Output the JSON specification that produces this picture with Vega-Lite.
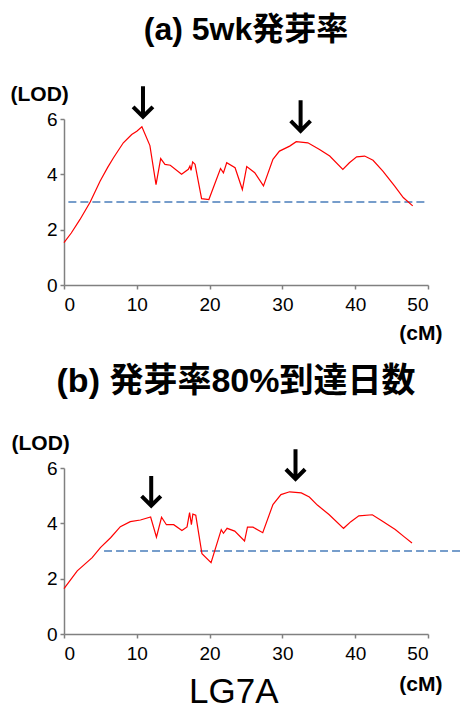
{
  "$schema": "https://vega.github.io/schema/vega-lite/v6.json",
  "padding": {"left": 10, "top": 14, "right": 0, "bottom": 0},
  "background": "white",
  "config": {
    "font": "Liberation Sans",
    "view": {"stroke": null},
    "axis": {
      "grid": false,
      "domainColor": "#808080",
      "domainWidth": 1.5,
      "tickColor": "#808080",
      "tickWidth": 1.5,
      "tickSize": 4,
      "labelFont": "Liberation Sans",
      "labelFontSize": 19,
      "labelColor": "#000000",
      "titleFont": "Liberation Sans",
      "titleFontSize": 21,
      "titleFontWeight": "bold",
      "titleColor": "#000000"
    },
    "title": {
      "font": "Liberation Sans, Noto Sans CJK JP",
      "fontSize": 32,
      "fontWeight": "bold",
      "color": "#000000"
    }
  },
  "title": {
    "text": "LG7A",
    "orient": "bottom",
    "anchor": "middle",
    "font": "Liberation Sans",
    "fontSize": 35,
    "fontWeight": "normal",
    "offset": -19,
    "dx": -3
  },
  "bounds": "flush",
  "spacing": 183,
  "vconcat": [
    {
      "width": 364,
      "height": 166,
      "title": {"text": "(a) 5wk発芽率", "frame": "group", "anchor": "middle", "offset": 31, "fontSize": 32},
      "layer": [
        {
          "data": {"name": "a_thr"},
          "mark": {"type": "rule", "strokeDash": [8, 4], "color": "#4a7ebb", "strokeWidth": 1.5},
          "encoding": {
            "x": {"field": "cM", "type": "quantitative", "scale": {"domain": [0, 50], "nice": false},
              "axis": {"values": [0, 5, 10, 15, 20, 25, 30, 35, 40, 45, 50], "labelExpr": "datum.value % 10 == 0 ? datum.label : ''", "labelPadding": 6, "title": "(cM)", "titleAngle": 0, "titleAlign": "right", "titleAnchor": "end", "titleX": 378, "titleY": 48, "titleBaseline": "middle"}},
            "x2": {"field": "cM2"},
            "y": {"field": "lod", "type": "quantitative", "scale": {"domain": [0, 6], "nice": false},
              "axis": {"values": [0, 1, 2, 3, 4, 5, 6], "labelExpr": "datum.value % 2 == 0 ? datum.label : ''", "labelPadding": 3, "title": "(LOD)", "titleAngle": 0, "titleAlign": "left", "titleAnchor": "start", "titleX": -54, "titleY": -25, "titleBaseline": "middle"}}
          }
        },
        {
          "data": {"name": "a_lod"},
          "mark": {"type": "line", "color": "#ff0000", "strokeWidth": 1.2},
          "encoding": {
            "x": {"field": "cM", "type": "quantitative"},
            "y": {"field": "lod", "type": "quantitative"}
          }
        },
        {
          "data": {"name": "a_arrow"},
          "mark": {"type": "point", "shape": "M0,-1L0,0.82M-0.6,0.25L0,0.85L0.6,0.25", "filled": false, "stroke": "#000000", "strokeWidth": 4, "size": 1089, "opacity": 1},
          "encoding": {
            "x": {"field": "cM", "type": "quantitative"},
            "y": {"field": "lod", "type": "quantitative"}
          }
        }
      ]
    },
    {
      "width": 364,
      "height": 166,
      "title": {"text": "(b) 発芽率80%到達日数", "frame": "group", "anchor": "middle", "offset": 33, "dx": -10, "fontSize": 34},
      "layer": [
        {
          "data": {"name": "b_thr"},
          "mark": {"type": "rule", "strokeDash": [8, 4], "color": "#4a7ebb", "strokeWidth": 1.5},
          "encoding": {
            "x": {"field": "cM", "type": "quantitative", "scale": {"domain": [0, 50], "nice": false},
              "axis": {"values": [0, 5, 10, 15, 20, 25, 30, 35, 40, 45, 50], "labelExpr": "datum.value % 10 == 0 ? datum.label : ''", "labelPadding": 6, "title": "(cM)", "titleAngle": 0, "titleAlign": "right", "titleAnchor": "end", "titleX": 378, "titleY": 50, "titleBaseline": "middle"}},
            "x2": {"field": "cM2"},
            "y": {"field": "lod", "type": "quantitative", "scale": {"domain": [0, 6], "nice": false},
              "axis": {"values": [0, 1, 2, 3, 4, 5, 6], "labelExpr": "datum.value % 2 == 0 ? datum.label : ''", "labelPadding": 3, "title": "(LOD)", "titleAngle": 0, "titleAlign": "left", "titleAnchor": "start", "titleX": -53, "titleY": -25, "titleBaseline": "middle"}}
          }
        },
        {
          "data": {"name": "b_lod"},
          "mark": {"type": "line", "color": "#ff0000", "strokeWidth": 1.2},
          "encoding": {
            "x": {"field": "cM", "type": "quantitative"},
            "y": {"field": "lod", "type": "quantitative"}
          }
        },
        {
          "data": {"name": "b_arrow"},
          "mark": {"type": "point", "shape": "M0,-1L0,0.82M-0.6,0.25L0,0.85L0.6,0.25", "filled": false, "stroke": "#000000", "strokeWidth": 4, "size": 1024, "opacity": 1},
          "encoding": {
            "x": {"field": "cM", "type": "quantitative"},
            "y": {"field": "lod", "type": "quantitative"}
          }
        }
      ]
    }
  ],
  "datasets": {
    "a_thr": [{"cM": 0.6, "cM2": 50, "lod": 3}],
    "b_thr": [{"cM": 5.5, "cM2": 54.8, "lod": 3}],
    "a_arrow": [{"cM": 10.85, "lod": 6.59}, {"cM": 32.5, "lod": 6.08}],
    "b_arrow": [{"cM": 11.98, "lod": 5.13}, {"cM": 31.8, "lod": 6.1}],
    "a_lod": [
      {"cM": 0, "lod": 1.53}, {"cM": 1.0, "lod": 1.88}, {"cM": 2.2, "lod": 2.37}, {"cM": 3.6, "lod": 3.0},
      {"cM": 4.95, "lod": 3.75}, {"cM": 6.0, "lod": 4.25}, {"cM": 6.8, "lod": 4.6}, {"cM": 8.15, "lod": 5.14},
      {"cM": 9.3, "lod": 5.44}, {"cM": 10.0, "lod": 5.56}, {"cM": 10.7, "lod": 5.72}, {"cM": 11.8, "lod": 5.04},
      {"cM": 12.64, "lod": 3.63}, {"cM": 13.28, "lod": 4.57}, {"cM": 13.87, "lod": 4.36}, {"cM": 14.6, "lod": 4.33},
      {"cM": 16.15, "lod": 4.0}, {"cM": 17.08, "lod": 4.18}, {"cM": 17.3, "lod": 4.3}, {"cM": 17.45, "lod": 4.14},
      {"cM": 17.67, "lod": 4.45}, {"cM": 18.0, "lod": 4.36}, {"cM": 18.9, "lod": 3.12}, {"cM": 19.9, "lod": 3.09},
      {"cM": 21.5, "lod": 4.21}, {"cM": 21.9, "lod": 4.05}, {"cM": 22.35, "lod": 4.42}, {"cM": 23.5, "lod": 4.24},
      {"cM": 24.5, "lod": 3.45}, {"cM": 25.1, "lod": 4.28}, {"cM": 26.2, "lod": 4.06}, {"cM": 27.4, "lod": 3.58},
      {"cM": 28.7, "lod": 4.54}, {"cM": 29.6, "lod": 4.84}, {"cM": 31.0, "lod": 5.02}, {"cM": 31.9, "lod": 5.18},
      {"cM": 33.5, "lod": 5.14}, {"cM": 35.1, "lod": 4.9}, {"cM": 36.5, "lod": 4.66}, {"cM": 38.3, "lod": 4.18},
      {"cM": 39.2, "lod": 4.42}, {"cM": 40.2, "lod": 4.63}, {"cM": 41.3, "lod": 4.66}, {"cM": 42.45, "lod": 4.51},
      {"cM": 43.8, "lod": 4.12}, {"cM": 45.4, "lod": 3.58}, {"cM": 46.6, "lod": 3.16}, {"cM": 47.9, "lod": 2.86}
    ],
    "b_lod": [
      {"cM": 0, "lod": 1.64}, {"cM": 1.82, "lod": 2.28}, {"cM": 3.87, "lod": 2.76}, {"cM": 5.0, "lod": 3.12},
      {"cM": 6.4, "lod": 3.48}, {"cM": 7.74, "lod": 3.88}, {"cM": 9.1, "lod": 4.06}, {"cM": 10.5, "lod": 4.12},
      {"cM": 11.9, "lod": 4.23}, {"cM": 12.7, "lod": 3.5}, {"cM": 13.4, "lod": 4.22}, {"cM": 14.07, "lod": 3.95},
      {"cM": 15.07, "lod": 3.95}, {"cM": 16.2, "lod": 3.74}, {"cM": 16.9, "lod": 3.87}, {"cM": 17.25, "lod": 4.39},
      {"cM": 17.5, "lod": 3.95}, {"cM": 17.7, "lod": 4.33}, {"cM": 18.1, "lod": 4.29}, {"cM": 18.95, "lod": 2.9},
      {"cM": 20.2, "lod": 2.58}, {"cM": 21.6, "lod": 3.77}, {"cM": 21.9, "lod": 3.64}, {"cM": 22.4, "lod": 3.82},
      {"cM": 23.45, "lod": 3.72}, {"cM": 24.8, "lod": 3.36}, {"cM": 25.2, "lod": 3.86}, {"cM": 25.96, "lod": 3.86},
      {"cM": 27.3, "lod": 3.66}, {"cM": 28.7, "lod": 4.68}, {"cM": 29.8, "lod": 5.04}, {"cM": 31.0, "lod": 5.14},
      {"cM": 32.6, "lod": 5.1}, {"cM": 33.7, "lod": 4.95}, {"cM": 34.8, "lod": 4.66}, {"cM": 36.4, "lod": 4.32},
      {"cM": 38.4, "lod": 3.82}, {"cM": 39.4, "lod": 4.06}, {"cM": 40.5, "lod": 4.27}, {"cM": 42.35, "lod": 4.31},
      {"cM": 43.7, "lod": 4.08}, {"cM": 45.5, "lod": 3.78}, {"cM": 46.7, "lod": 3.52}, {"cM": 47.8, "lod": 3.29}
    ]
  }
}
